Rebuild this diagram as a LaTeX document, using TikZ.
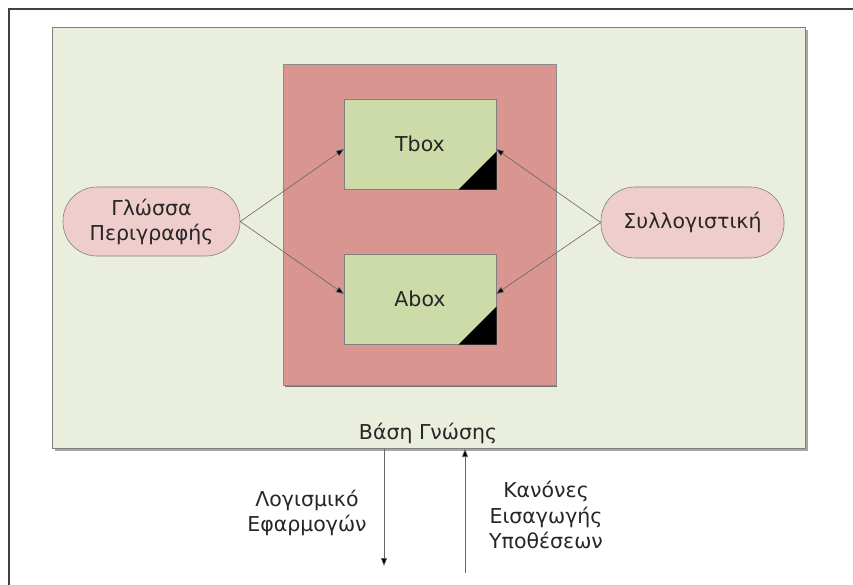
\documentclass[tikz,border=0pt]{standalone}
\usepackage{fontspec}
\setmainfont{DejaVu Sans}
\usetikzlibrary{arrows.meta}
\definecolor{kbfill}{HTML}{EAEEDC}
\definecolor{redfill}{HTML}{D99590}
\definecolor{boxfill}{HTML}{CCDBA8}
\definecolor{pillfill}{HTML}{F0CDCD}
\definecolor{edge}{HTML}{808080}
\begin{document}
\begin{tikzpicture}[x=1pt,y=-1pt,
  boxnode/.style={draw=edge, fill=boxfill, line width=0.6pt, minimum width=152pt, minimum height=90pt, inner sep=0pt},
  pill/.style={draw=edge, fill=pillfill, line width=0.6pt, rounded corners=34pt, inner sep=0pt, align=center, font=\fontsize{20.5}{25}\selectfont, text=black!85},
  lbl/.style={align=center, font=\fontsize{20.5}{25.5}\selectfont, inner sep=0pt, text=black!85},
  conn/.style={draw=black!60, line width=0.6pt, -{Triangle[length=8pt,width=6pt,fill=black]}}
]
\useasboundingbox (0,0) rectangle (853,585);
% outer frame (left and top only visible)
\draw[line width=2pt, black!75] (8.5,585) -- (8.5,9.5) -- (853,9.5);
% knowledge base box with shadow
\fill[black!35] (55,30) rectangle (808,451);
\node[draw=edge, fill=kbfill, line width=0.6pt, minimum width=753pt, minimum height=421pt, inner sep=0pt, anchor=north west] (kb) at (52,27) {};
\node[lbl] (kbl) at (428,433) {Βάση Γνώσης};
% red box
\fill[black!55] (285,66) rectangle (557,387);
\node[draw=black!45, fill=redfill, line width=0.6pt, minimum width=273pt, minimum height=321pt, inner sep=0pt, anchor=north west] (red) at (283,64) {};
% Tbox, Abox
\node[boxnode, anchor=north west] (tbox) at (344,99) {};
\node[lbl] (tboxl) at (420,144) {Tbox};
\fill[black] (tbox.south east) -- ++(0,-38) -- ++(-38,38) -- cycle;
\node[boxnode, anchor=north west] (abox) at (344,254) {};
\node[lbl] (aboxl) at (420,299) {Abox};
\fill[black] (abox.south east) -- ++(0,-38) -- ++(-38,38) -- cycle;
% pills
\node[pill, minimum width=177pt, minimum height=69pt] (lang) at (151.5,221.5) {Γλώσσα\\Περιγραφής};
\node[pill, minimum width=183pt, minimum height=71pt] (reas) at (692.5,222.5) {Συλλογιστική};
% connectors
\coordinate (tl) at (344,149);
\coordinate (al) at (344,294);
\coordinate (tr) at (496,149);
\coordinate (ar) at (496,294);
\draw[conn] (lang.east) -- (tl);
\draw[conn] (lang.east) -- (al);
\draw[conn] (reas.west) -- (tr);
\draw[conn] (reas.west) -- (ar);
% bottom arrows
\coordinate (d1) at (384,449);
\coordinate (d2) at (384,566);
\coordinate (u1) at (465,573);
\coordinate (u2) at (465,449);
\draw[conn] (d1) -- (d2);
\draw[conn] (u1) -- (u2);
\node[lbl] (sw) at (307,513) {Λογισμικό\\Εφαρμογών};
\node[lbl] (rules) at (546,515) {Κανόνες\\Εισαγωγής\\Υποθέσεων};
\end{tikzpicture}
\end{document}
